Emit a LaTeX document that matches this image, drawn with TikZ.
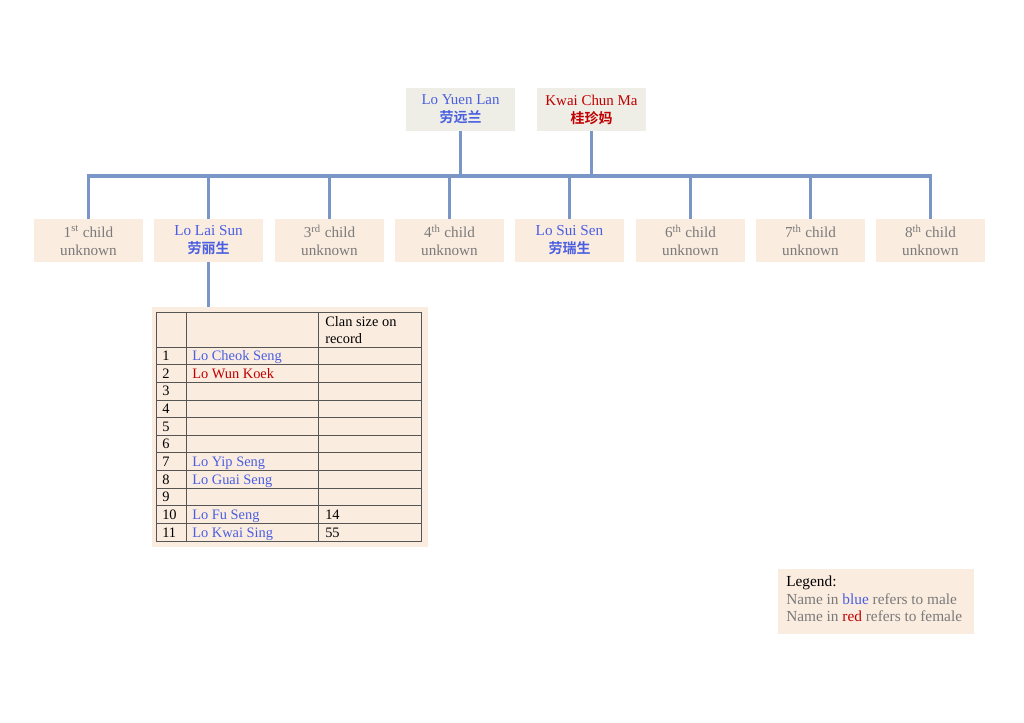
\documentclass[tikz,border=0pt]{standalone}
\usepackage{fontspec}
\setmainfont{Liberation Serif}
\newfontfamily\cjk{Noto Sans CJK SC}[BoldFont={* Bold}]
\definecolor{linec}{HTML}{7A96C6}
\definecolor{peach}{HTML}{FBECE0}
\definecolor{parentbg}{HTML}{EEEDE6}
\definecolor{mblue}{HTML}{4A5FE0}
\definecolor{fred}{HTML}{C00000}
\definecolor{gtext}{HTML}{7A7A7A}
\definecolor{gridc}{HTML}{555555}
\tikzset{
  conn/.style={draw=linec, line width=2.3pt},
  parentbox/.style={fill=parentbg, minimum width=81.75pt, minimum height=32.25pt, inner sep=0pt, align=center, font=\fontsize{11.2}{13.5}\selectfont},
  childbox/.style={fill=peach, minimum width=81.75pt, minimum height=32.25pt, inner sep=0pt, align=center, font=\fontsize{11.4}{13.5}\selectfont, text=gtext},
  cell/.style={anchor=base west, inner sep=0pt, font=\fontsize{10.8}{12}\selectfont},
}
\newcommand{\zh}[1]{{\cjk\bfseries\fontsize{10.5}{13.5}\selectfont #1}}
\begin{document}
\begin{tikzpicture}[x=0.75pt,y=-0.75pt]
\useasboundingbox (0,0) rectangle (1024,723);
\fill[white] (0,0) rectangle (1024,723);
% parents
\node[parentbox] (p1) at (460.5,109.5) {\textcolor{mblue}{Lo Yuen Lan}\\\textcolor{mblue}{\zh{劳远兰}}};
\node[parentbox] (p2) at (591.5,109.5) {\textcolor{fred}{Kwai Chun Ma}\\\textcolor{fred}{\zh{桂珍妈}}};
% children
\node[childbox] (c1) at (88.5,240.5) {1\textsuperscript{st} child\\unknown};
\node[childbox] (c2) at (208.5,240.5) {\textcolor{mblue}{Lo Lai Sun}\\\textcolor{mblue}{\zh{劳丽生}}};
\node[childbox] (c3) at (329.5,240.5) {3\textsuperscript{rd} child\\unknown};
\node[childbox] (c4) at (449.5,240.5) {4\textsuperscript{th} child\\unknown};
\node[childbox] (c5) at (569.5,240.5) {\textcolor{mblue}{Lo Sui Sen}\\\textcolor{mblue}{\zh{劳瑞生}}};
\node[childbox] (c6) at (690.5,240.5) {6\textsuperscript{th} child\\unknown};
\node[childbox] (c7) at (810.5,240.5) {7\textsuperscript{th} child\\unknown};
\node[childbox] (c8) at (930.5,240.5) {8\textsuperscript{th} child\\unknown};
% connectors
\coordinate (bus1) at (460.5,176);
\coordinate (bus2) at (591.5,176);
\draw[conn] (p1.south) -- (bus1);
\draw[conn] (p2.south) -- (bus2);
\draw[conn, line cap=butt] (c1.north) |- (c8.north |- bus1) -- (c8.north);
\foreach \c in {c2,c3,c4,c5,c6,c7}{
  \draw[conn] (\c.north) -- (\c.north |- bus1);
}
% table
\node[fill=peach, minimum width=207pt, minimum height=180pt, inner sep=0pt, anchor=north west] (tbl) at (152,307) {};
\draw[conn] (c2.south) -- (c2.south |- tbl.north);
\begin{scope}[draw=gridc, line width=0.6pt]
  \draw (156,312) rectangle (421,541);
  \draw (186,312) -- (186,541);
  \draw (318,312) -- (318,541);
  \foreach \i in {0,...,10}{
    \draw (156,{347+\i*17.64}) -- (421,{347+\i*17.64});
  }
\end{scope}
\node[cell, align=left, font=\fontsize{10.8}{13}\selectfont, anchor=north west] (hdr) at (325,316) {Clan size on\\record};
\foreach \n/\name/\col/\sz in {1/Lo Cheok Seng/mblue/,2/Lo Wun Koek/fred/,3///,4///,5///,6///,7/Lo Yip Seng/mblue/,8/Lo Guai Seng/mblue/,9///,10/Lo Fu Seng/mblue/14,11/Lo Kwai Sing/mblue/55}{
  \pgfmathsetmacro{\yb}{347+\n*17.64-4}
  \node[cell] (n\n) at (162,\yb) {\n};
  \ifx\col\empty\else
  \node[cell, text=\col] (nm\n) at (192,\yb) {\name};
  \fi
  \node[cell] (sz\n) at (325,\yb) {\sz};
}
% legend
\node[fill=peach, minimum width=147pt, minimum height=48.75pt, inner sep=0pt, anchor=north west] (leg) at (778,569) {};
\node[anchor=north west, inner sep=0pt, align=left, text=gtext, font=\fontsize{11.5}{13.1}\selectfont] (legt) at (786,576) {\textcolor{black}{Legend:}\\Name in \textcolor{mblue}{blue} refers to male\\Name in \textcolor{fred}{red} refers to female};
\end{tikzpicture}
\end{document}
